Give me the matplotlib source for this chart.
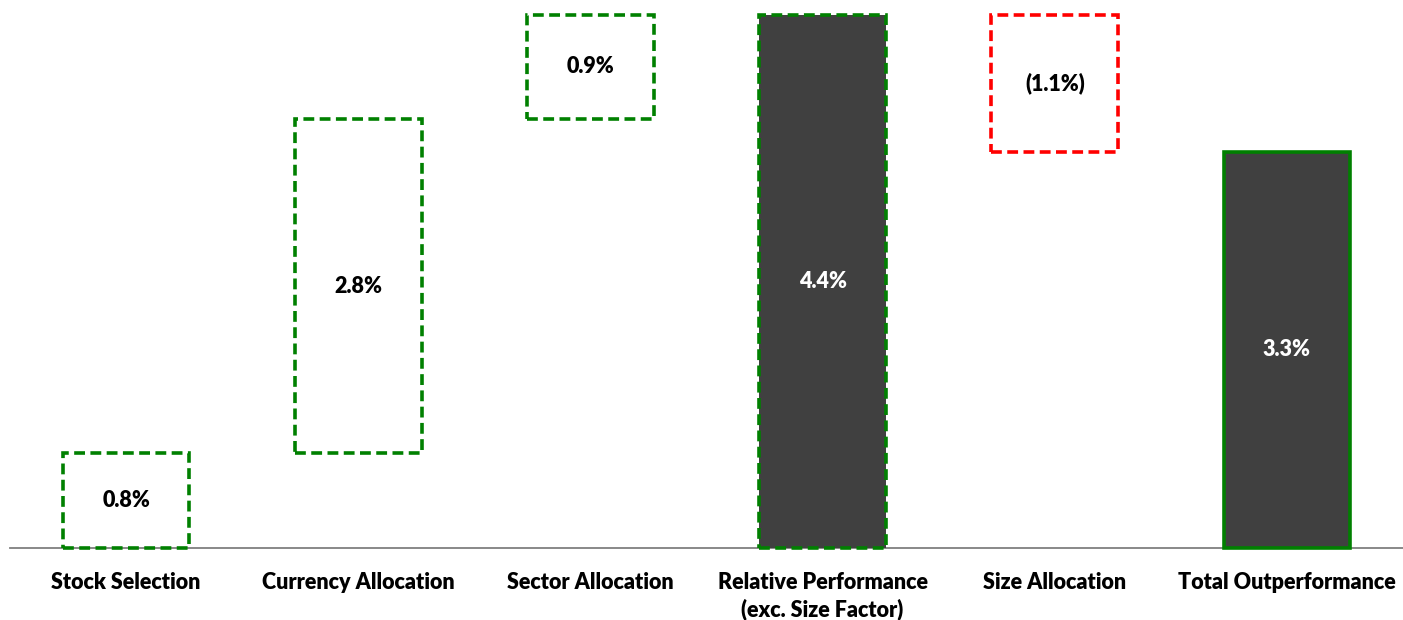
import matplotlib.pyplot as plt

plt.rcParams['font.family'] = ['Lato', 'DejaVu Sans']

# waterfall data (in %)
categories = ["Stock Selection", "Currency Allocation", "Sector Allocation",
              "Relative Performance\n(exc. Size Factor)", "Size Allocation", "Total Outperformance"]
changes = [0.78, 2.76, 0.86, None, -1.13, None]   # None = running total bar
labels = ["0.8%", "2.8%", "0.9%", "4.4%", "(1.1%)", "3.3%"]

fig = plt.figure(figsize=(14.03, 6.20), dpi=100)
ax = fig.add_axes([10 / 1403, 72 / 620, 1393 / 1403, 538 / 620])

dark = "#404040"
green = "#008000"
red = "#ff0000"
dash = (0, (3.0, 1.5))

running = 0.0
for i, (cat, ch, lab) in enumerate(zip(categories, changes, labels)):
    if ch is None:
        bottom, height = 0, running
        fill = dark
        if i == len(categories) - 1:
            edge, ls = green, "-"
        else:
            edge, ls = green, dash
        tcol = "white"
    else:
        if ch >= 0:
            bottom, height = running, ch
            edge = green
        else:
            bottom, height = running + ch, -ch
            edge = red
        running += ch
        fill = "none"
        ls = dash
        tcol = "black"
    ax.bar(i, height, bottom=bottom, width=0.545, color=fill, edgecolor=edge,
           linewidth=2.6, linestyle=ls, zorder=3, clip_on=False)
    ax.text(i, bottom + height / 2, lab, ha="center", va="center",
            fontsize=15.5, fontweight="heavy", color=tcol, zorder=4)

ax.set_xlim(-0.5, 5.5)
ax.set_ylim(0, 4.44)
ax.set_xticks(range(len(categories)))
ax.set_xticklabels(categories, fontsize=15.5, fontweight="heavy", linespacing=1.3)
ax.tick_params(axis="x", length=0, pad=17)
ax.set_yticks([])
for s in ["top", "left", "right"]:
    ax.spines[s].set_visible(False)
ax.spines["bottom"].set_color("#7f7f7f")
ax.spines["bottom"].set_linewidth(1.3)
ax.spines["bottom"].set_zorder(2)

plt.savefig("out.png", dpi=100)
